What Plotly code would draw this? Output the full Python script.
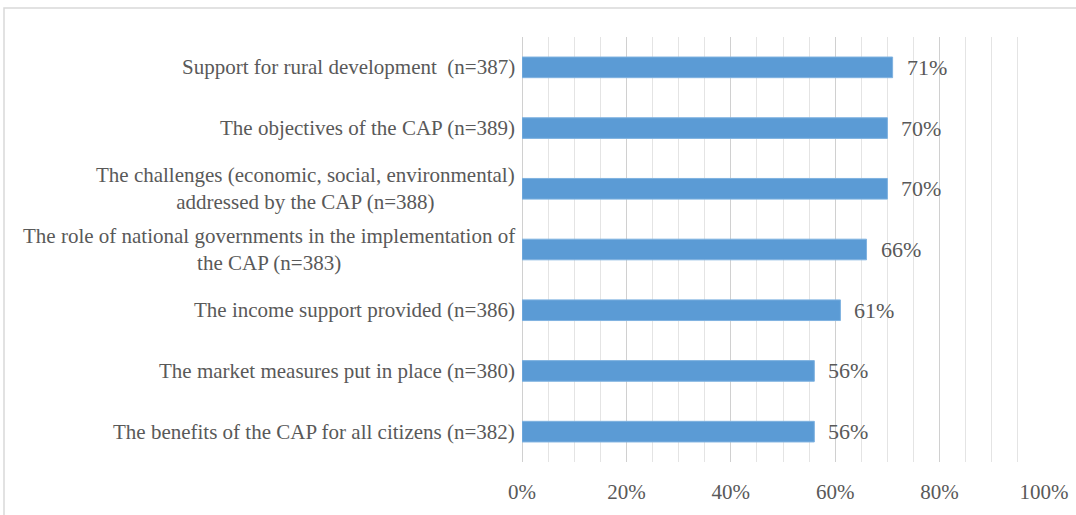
import plotly.graph_objects as go

# Survey items (top to bottom) and the share of respondents for each
categories = [
    "Support for rural development  (n=387)",
    "The objectives of the CAP (n=389)",
    "The challenges (economic, social, environmental)<br>addressed by the CAP (n=388)",
    "The role of national governments in the implementation of<br>the CAP (n=383)",
    "The income support provided (n=386)",
    "The market measures put in place (n=380)",
    "The benefits of the CAP for all citizens (n=382)",
]
shares = [0.71, 0.70, 0.70, 0.66, 0.61, 0.56, 0.56]
tick_values = [0, 0.2, 0.4, 0.6, 0.8, 1.0]
tick_labels = ["0%", "20%", "40%", "60%", "80%", "100%"]

W, H = 1076, 515
L, R, T, B = 522, 32, 37, 53
TEXT = "#595959"
FONT = "Liberation Serif"

fig = go.Figure(
    go.Bar(
        x=shares,
        y=categories,
        orientation="h",
        marker=dict(color="#5B9BD5", line=dict(color="#7FB2E0", width=1)),
        hoverinfo="skip",
    )
)

# Category labels, right-aligned to the axis with centred line breaks
for cat in categories:
    fig.add_annotation(
        x=0, xref="paper", y=cat, yref="y",
        text=cat, showarrow=False,
        xanchor="right", align="center", xshift=-5,
        font=dict(family=FONT, size=21, color=TEXT),
    )

# Value labels at the end of each bar
for cat, v in zip(categories, shares):
    fig.add_annotation(
        x=v, y=cat, text=f"{round(v * 100)}%", showarrow=False,
        xanchor="left", xshift=12,
        font=dict(family=FONT, size=22, color=TEXT),
    )

pw = W - L - R
ph = H - T - B
# Light frame around the chart
fig.add_shape(
    type="rect", xref="paper", yref="paper",
    x0=(4 - L) / pw, x1=(W + 10 - L) / pw,
    y0=(H - (H + 10) - B) / ph, y1=(H - 8 - B) / ph,
    line=dict(color="#d9d9d9", width=1.5), fillcolor="rgba(0,0,0,0)",
    layer="below",
)

fig.update_layout(
    width=W, height=H,
    margin=dict(l=L, r=R, t=T, b=B, autoexpand=False),
    paper_bgcolor="white", plot_bgcolor="white",
    bargap=0.66,
    showlegend=False,
    xaxis=dict(
        range=[0, 1.0], tickvals=tick_values, ticktext=tick_labels,
        showgrid=True, gridcolor="#d0d0d0", gridwidth=1,
        minor=dict(dtick=0.05, showgrid=True, gridcolor="#e4e4e4", gridwidth=1),
        zeroline=True, zerolinecolor="#d0d0d0", zerolinewidth=1,
        showline=False, ticks="",
        ticklabelstandoff=15,
        tickfont=dict(family=FONT, size=21, color=TEXT),
        automargin=False,
        fixedrange=True,
    ),
    yaxis=dict(
        autorange="reversed", showticklabels=False, showgrid=False,
        zeroline=False, ticks="", fixedrange=True, automargin=False,
    ),
)

fig.write_html("out.html")
